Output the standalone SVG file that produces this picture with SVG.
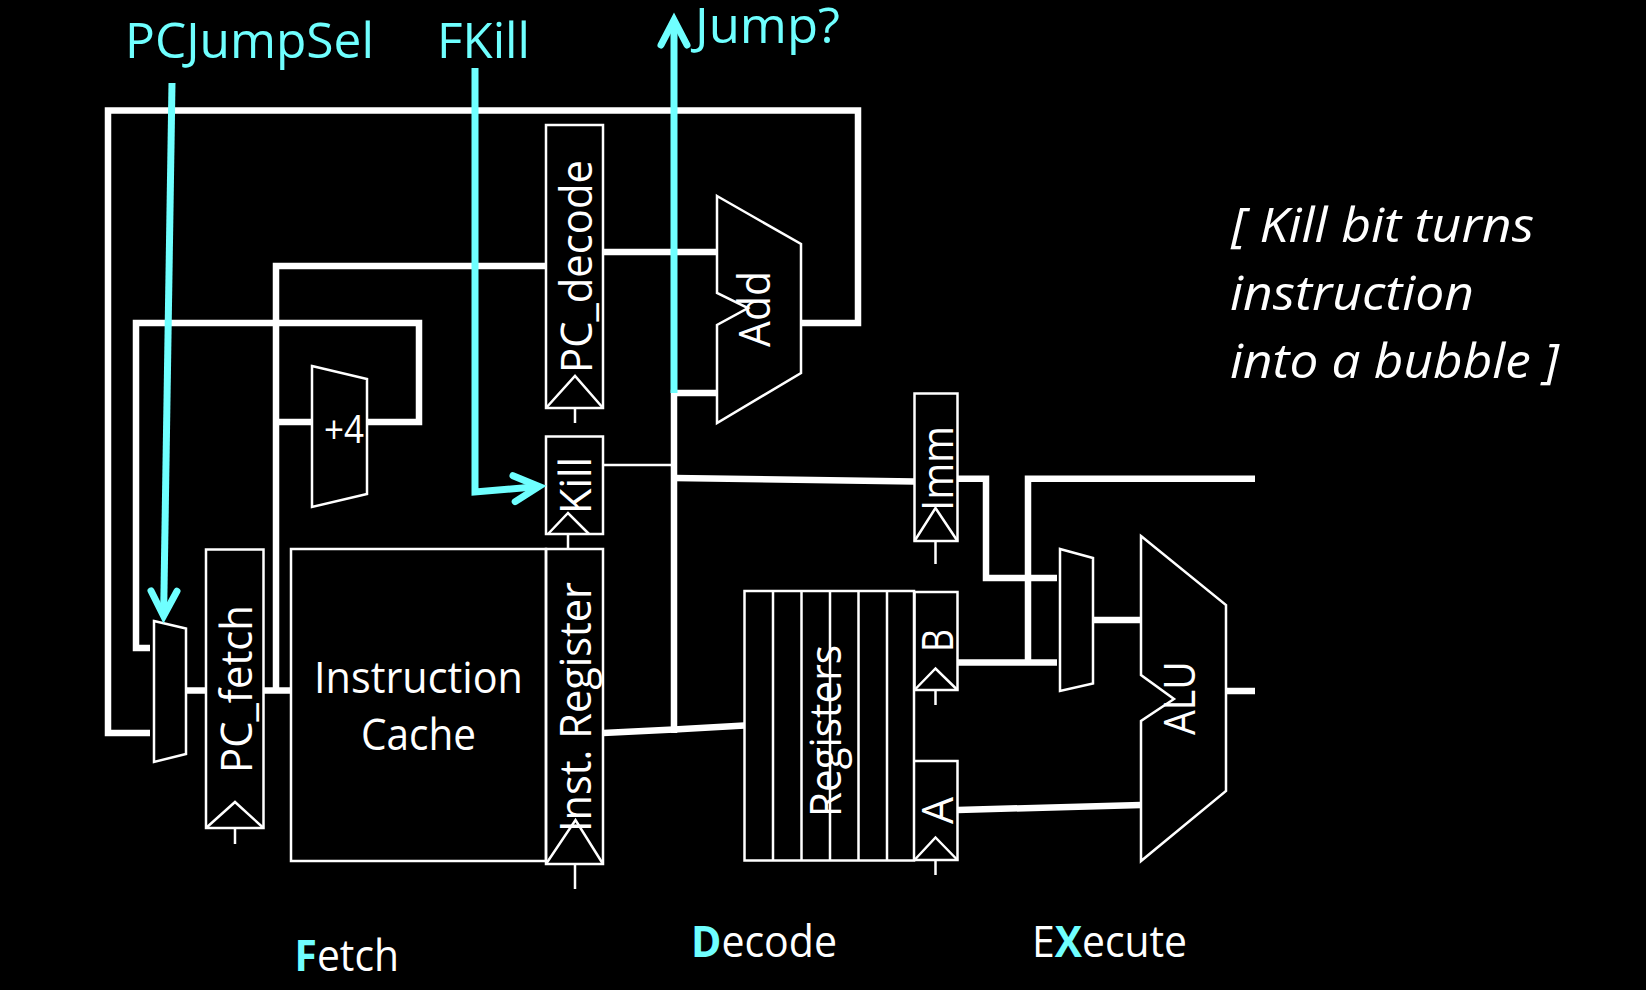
<svg xmlns="http://www.w3.org/2000/svg" width="1646" height="990" viewBox="0 0 1646 990">
<style>
text{font-family:"Open Sans","Noto Sans","Liberation Sans",sans-serif;fill:#fff;font-size:43px}
.sig{fill:#6fffff;font-size:49px}
.b{fill:#6fffff;font-weight:700}
.it{font-style:italic;font-size:47px}
.box{fill:none;stroke:#fff;stroke-width:2.5;stroke-linejoin:miter}
.tick{fill:none;stroke:#fff;stroke-width:2.5}
.w{fill:none;stroke:#fff;stroke-width:6.5;stroke-linejoin:miter}
.thin{fill:none;stroke:#fff;stroke-width:2.5}
.c{fill:none;stroke:#6fffff;stroke-width:7;stroke-linejoin:miter}
.ca{marker-end:url(#head)}
</style>
<defs>
<marker id="head" markerUnits="userSpaceOnUse" orient="auto" markerWidth="60" markerHeight="60" refX="30" refY="30" viewBox="0 0 60 60">
<path d="M5,17 L30,30 L5,43" fill="none" stroke="#6fffff" stroke-width="7" stroke-linecap="round" stroke-linejoin="miter"/>
</marker>
</defs>
<rect width="1646" height="990" fill="#000"/>

<g id="pc-fetch">
<rect class="box" x="206" y="549.5" width="57.5" height="278.5"/>
<path class="box" d="M206,828 L235,802 L263.5,828"/>
<path class="tick" d="M235,828 V844"/>
<text transform="translate(252,773) rotate(-90)" textLength="168" lengthAdjust="spacingAndGlyphs">PC_fetch</text>
</g>
<g id="pc-mux"><path class="box" d="M154,621 L186,628.5 V754 L154,762 Z"/></g>
<g id="plus4">
<path class="box" d="M312,366 L367,379 V494 L312,507 Z"/>
<text x="324" y="443" style="font-size:38px" textLength="40" lengthAdjust="spacingAndGlyphs">+4</text>
</g>
<g id="instruction-cache">
<rect class="box" x="291" y="549" width="255" height="312"/>
<text x="314" y="693" textLength="209" lengthAdjust="spacingAndGlyphs">Instruction</text>
<text x="361" y="750" textLength="115" lengthAdjust="spacingAndGlyphs">Cache</text>
</g>
<g id="inst-register">
<rect class="box" x="546" y="549" width="57" height="315"/>
<path class="box" d="M546,864 L575.5,820 L603,864"/>
<path class="tick" d="M575,864 V889"/>
<text transform="translate(591,832) rotate(-90)" textLength="250" lengthAdjust="spacingAndGlyphs">Inst. Register</text>
</g>
<g id="kill">
<rect class="box" x="546" y="436.5" width="57" height="97.5"/>
<path class="box" d="M548,534 L568,513 L589,534"/>
<path class="tick" d="M568,534 V549"/>
<text transform="translate(591,514) rotate(-90)" textLength="57" lengthAdjust="spacingAndGlyphs">Kill</text>
</g>
<g id="pc-decode">
<rect class="box" x="546" y="125" width="57" height="283"/>
<path class="box" d="M546,408 L575,376 L603,408"/>
<path class="tick" d="M575,408 V423"/>
<text transform="translate(592,373) rotate(-90)" textLength="213" lengthAdjust="spacingAndGlyphs">PC_decode</text>
</g>
<g id="add">
<path class="box" d="M717,196 L801,244 V373 L717,423 V325 L748,308 L717,293 Z"/>
<text transform="translate(770,347) rotate(-90)" style="font-size:44px" textLength="76" lengthAdjust="spacingAndGlyphs">Add</text>
</g>
<g id="imm">
<rect class="box" x="914.5" y="393.5" width="43" height="147.5"/>
<path class="box" d="M914.5,541 L935.5,508 L957.5,541"/>
<path class="tick" d="M935.5,541 V564"/>
<text transform="translate(953,511) rotate(-90)" textLength="85" lengthAdjust="spacingAndGlyphs">Imm</text>
</g>
<g id="registers">
<rect class="box" x="744.5" y="591" width="169.5" height="269.5"/>
<path class="tick" d="M773,591 V860.5 M801.5,591 V860.5 M830,591 V860.5 M858.5,591 V860.5 M887,591 V860.5"/>
<text transform="translate(841,817) rotate(-90)" textLength="172" lengthAdjust="spacingAndGlyphs">Registers</text>
</g>
<g id="reg-b">
<rect class="box" x="914.5" y="592" width="43" height="98"/>
<path class="box" d="M914.5,690 L935.5,668.5 L957.5,690"/>
<path class="tick" d="M935.5,690 V705"/>
<text transform="translate(953,652) rotate(-90)" textLength="23" lengthAdjust="spacingAndGlyphs">B</text>
</g>
<g id="reg-a">
<path class="box" d="M914.5,761 H957.5 V860 H914.5"/>
<path class="box" d="M914.5,860 L935.5,837.5 L957.5,860"/>
<path class="tick" d="M935.5,860 V875"/>
<text transform="translate(953,824) rotate(-90)" textLength="27" lengthAdjust="spacingAndGlyphs">A</text>
</g>
<g id="alu-mux"><path class="box" d="M1060,549 L1093,558 V683.5 L1060,691 Z"/></g>
<g id="alu">
<path class="box" d="M1141,536 L1226,605 V791 L1141,861 V721 L1174,699 L1141,675 Z"/>
<text transform="translate(1195,735) rotate(-90)" textLength="74" lengthAdjust="spacingAndGlyphs">ALU</text>
</g>

<g id="label-pcjumpsel"><text class="sig" x="125" y="58" textLength="249" lengthAdjust="spacingAndGlyphs">PCJumpSel</text></g>
<g id="label-fkill"><text class="sig" x="437" y="58" textLength="93" lengthAdjust="spacingAndGlyphs">FKill</text></g>
<g id="label-jump"><text class="sig" x="695" y="43" textLength="145" lengthAdjust="spacingAndGlyphs">Jump?</text></g>
<g id="label-fetch"><text x="294.5" y="971" textLength="104.5" lengthAdjust="spacingAndGlyphs"><tspan class="b">F</tspan>etch</text></g>
<g id="label-decode"><text x="691" y="957" textLength="146" lengthAdjust="spacingAndGlyphs"><tspan class="b">D</tspan>ecode</text></g>
<g id="label-execute"><text x="1032" y="957" textLength="155" lengthAdjust="spacingAndGlyphs">E<tspan class="b">X</tspan>ecute</text></g>
<g id="note">
<text class="it" x="1231" y="241.7" textLength="303" lengthAdjust="spacingAndGlyphs">[ Kill bit turns</text>
<text class="it" x="1230" y="310" textLength="244" lengthAdjust="spacingAndGlyphs">instruction</text>
<text class="it" x="1230" y="378" textLength="329" lengthAdjust="spacingAndGlyphs">into a bubble ]</text>
</g>

<g id="connectors">
<path class="w" d="M150,733 H108 V110.5 H858 V323 H802"/>
<path class="w" d="M150,648 H136 V323 H419 V422 H367"/>
<path class="w" d="M546,266 H276 V690.5"/>
<path class="w" d="M276,422 H312"/>
<path class="w" d="M186,690.5 H206"/>
<path class="w" d="M263.5,690.5 H291"/>
<path class="w" d="M603,252 H717"/>
<path class="w" d="M717,393 H674 V733"/>
<path class="w" d="M603,733 L674,729.5 L744.5,725.5"/>
<path class="thin" d="M603,465 H674"/>
<path class="w" d="M674,478 L914.5,481.5"/>
<path class="w" d="M957.5,478.7 H986 V578 H1057"/>
<path class="w" d="M1255,478.7 H1028 V662.5"/>
<path class="w" d="M957.5,662.5 H1057"/>
<path class="w" d="M1093,620 H1141"/>
<path class="w" d="M1226,691 H1255"/>
<path class="w" d="M957.5,810 L1141,805"/>
<path class="c ca" d="M172,83 L163.6,616"/>
<path class="c ca" d="M475,68 V492 L539,486.5"/>
<path class="c ca" d="M674,393 V20"/>
</g>
</svg>
